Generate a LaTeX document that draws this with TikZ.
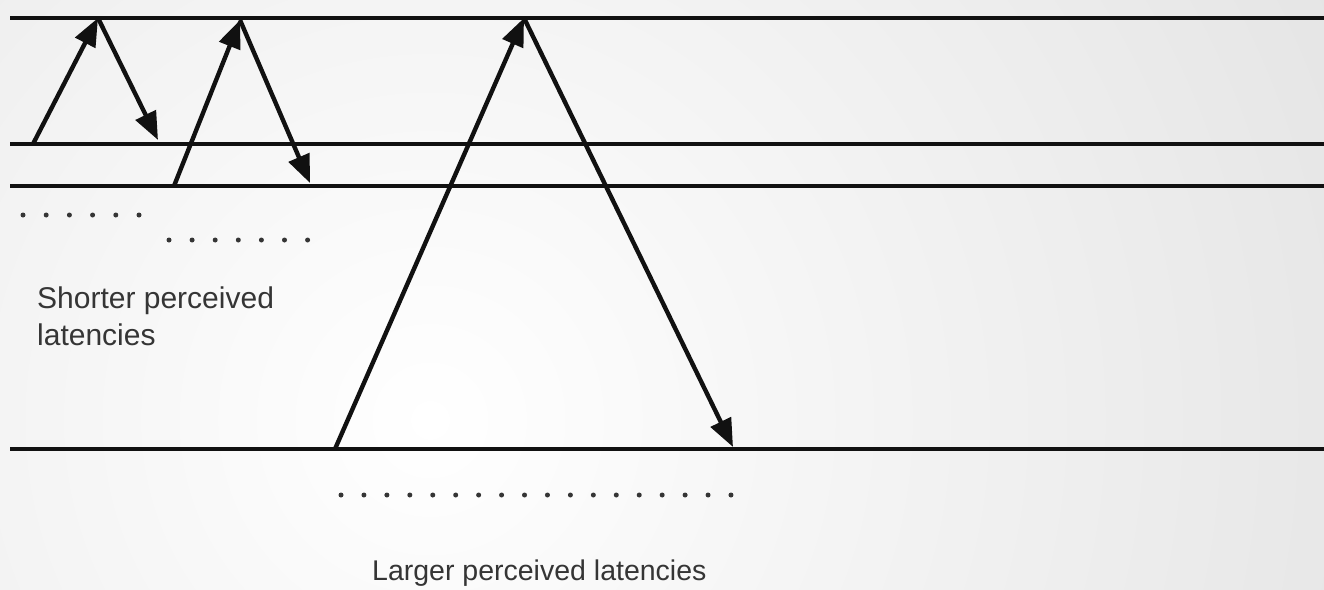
\documentclass[tikz,border=0pt]{standalone}
\usepackage{fontspec}
\setmainfont{Liberation Sans}
\usetikzlibrary{arrows.meta}
\definecolor{bgC}{HTML}{DCDCDC}
\definecolor{inkC}{HTML}{111111}
\tikzset{
  timeline/.style={draw=inkC, line width=4.8pt},
  msg/.style={draw=inkC, line width=4.4pt, -{Triangle[length=28pt,width=22pt]}},
  tick/.style={circle, fill=inkC!85, inner sep=0pt, minimum size=5pt},
  lbl/.style={text=inkC!85, align=left, inner sep=0pt},
}

\begin{document}
\begin{tikzpicture}[x=1pt,y=-1pt]
\begin{scope}
  \clip (0,0) rectangle (1324,589);
  \shade[inner color=white, outer color=bgC] (430,420) circle (1350);
\end{scope}
\useasboundingbox (0,0) rectangle (1324,589);
% timelines
\foreach \n/\y in {a/18, b/144, c/186, d/449} {
  \coordinate (\n0) at (10,\y);
  \coordinate (\n1) at (1324,\y);
  \draw[timeline] (\n0) -- (\n1);
}
% round trips
\coordinate (r1s) at (33,144);  \coordinate (r1t) at (98,18);  \coordinate (r1e) at (158,140);
\coordinate (r2s) at (174,186); \coordinate (r2t) at (240,20); \coordinate (r2e) at (310,183);
\coordinate (r3s) at (335,449); \coordinate (r3t) at (524,18); \coordinate (r3e) at (733,447);
\draw[msg] (r1s) -- (r1t);
\draw[msg] (r1t) -- (r1e);
\draw[msg] (r2s) -- (r2t);
\draw[msg] (r2t) -- (r2e);
\draw[msg] (r3s) -- (r3t);
\draw[msg] (r3t) -- (r3e);
% dotted spans
\foreach \i in {0,...,5} \node[tick] (p\i) at ({23+23.2*\i},215) {};
\foreach \i in {0,...,6} \node[tick] (q\i) at ({169+23.1*\i},240) {};
\foreach \i in {0,...,17} \node[tick] (w\i) at ({341+22.94*\i},495) {};
% labels
\node[lbl, font=\fontsize{30}{37}\selectfont, anchor=north west] (short) at (37,287) {Shorter perceived\\latencies};
\node[lbl, font=\fontsize{28.5}{34}\selectfont, anchor=north west] (large) at (372,560) {Larger perceived latencies};
\end{tikzpicture}
\end{document}
